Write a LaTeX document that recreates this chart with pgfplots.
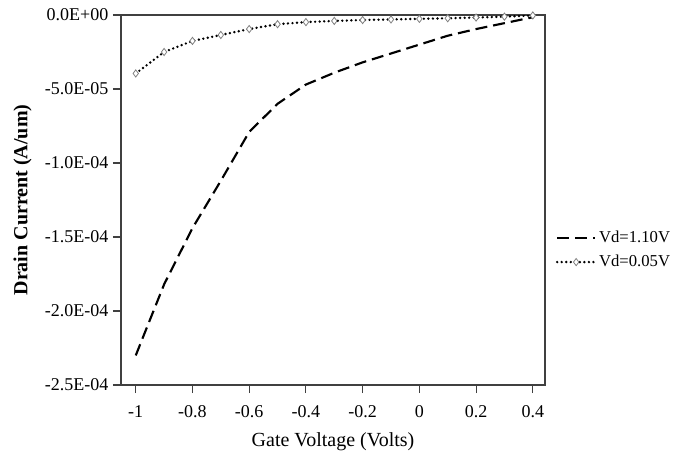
\documentclass[border=0pt]{standalone}
\usepackage{fontspec}
\setmainfont{Liberation Serif}
\usepackage{pgfplots}
\pgfplotsset{compat=1.18}

\pgfplotstableread{
vg      id
-1.0   -2.30e-4
-0.9   -1.82e-4
-0.8   -1.44e-4
-0.7   -1.12e-4
-0.6   -7.9e-5
-0.5   -6.0e-5
-0.4   -4.7e-5
-0.3   -3.9e-5
-0.2   -3.2e-5
-0.1   -2.6e-5
 0.0   -2.0e-5
 0.1   -1.4e-5
 0.2   -9.5e-6
 0.3   -5.5e-6
 0.4   -1.5e-6
}\highvd

\pgfplotstableread{
vg      id
-1.0   -3.95e-5
-0.9   -2.5e-5
-0.8   -1.75e-5
-0.7   -1.35e-5
-0.6   -9.5e-6
-0.5   -6.2e-6
-0.4   -4.8e-6
-0.3   -4.0e-6
-0.2   -3.4e-6
-0.1   -3.0e-6
 0.0   -2.6e-6
 0.1   -2.2e-6
 0.2   -1.7e-6
 0.3   -1.1e-6
 0.4   -0.3e-6
}\lowvd

\begin{document}
\begin{tikzpicture}
% page frame: 686x462 px at 0.75pt per px, axis box at (121px,15px)-(545px,385px)
\useasboundingbox (-90.75pt,-57.75pt) rectangle (423.75pt,288.75pt);
\begin{axis}[
    at={(0,0)}, anchor=south west,
    scale only axis,
    width=318pt, height=277.5pt,
    xmin=-1.052, xmax=0.443,
    ymin=-2.5e-4, ymax=0,
    xtick={-1,-0.8,...,0.4},
    xticklabels={-1,-0.8,-0.6,-0.4,-0.2,0,0.2,0.4},
    ytick={-2.5e-4,-2e-4,-1.5e-4,-1e-4,-5e-5,0},
    yticklabels={-2.5E-04,-2.0E-04,-1.5E-04,-1.0E-04,-5.0E-05,0.0E+00},
    scaled y ticks=false,
    tick align=outside,
    major tick length=6pt,
    xtick pos=bottom, ytick pos=left,
    axis line style={black!75, line width=0.8pt},
    tick style={black!75, line width=0.8pt},
    tick label style={font=\fontsize{13.5}{15}\selectfont},
    xticklabel style={yshift=-6pt},
    /pgf/number format/assume math mode=true,
    xlabel={Gate Voltage (Volts)},
    ylabel={\bfseries Drain Current (A/um)},
    label style={font=\fontsize{15}{17}\selectfont},
    xlabel style={yshift=-4pt},
    ylabel style={yshift=3pt},
    legend style={draw=none, fill=none, at={(1.025,0.365)}, anchor=west,
                  font=\fontsize{12.5}{14}\selectfont, row sep=4pt,
                  inner xsep=0pt},
    legend cell align=left,
    legend image code/.code={
        \draw[mark repeat=2, mark phase=2, #1]
            plot coordinates {(0cm,0cm) (0.5cm,0cm) (1.0cm,0cm)};},
]
\addplot[black, line width=1.6pt, dash pattern=on 9pt off 4.5pt] table[x=vg,y=id] {\highvd};
\addlegendentry{Vd=1.10V}
\addplot[black, line width=2pt, line cap=round, dash pattern=on 0pt off 3.4pt,
    mark=diamond*, mark size=2.7pt,
    mark options={solid, draw=gray, fill=white, line width=0.6pt}] table[x=vg,y=id] {\lowvd};
\addlegendentry{Vd=0.05V}
\end{axis}
\end{tikzpicture}
\end{document}
